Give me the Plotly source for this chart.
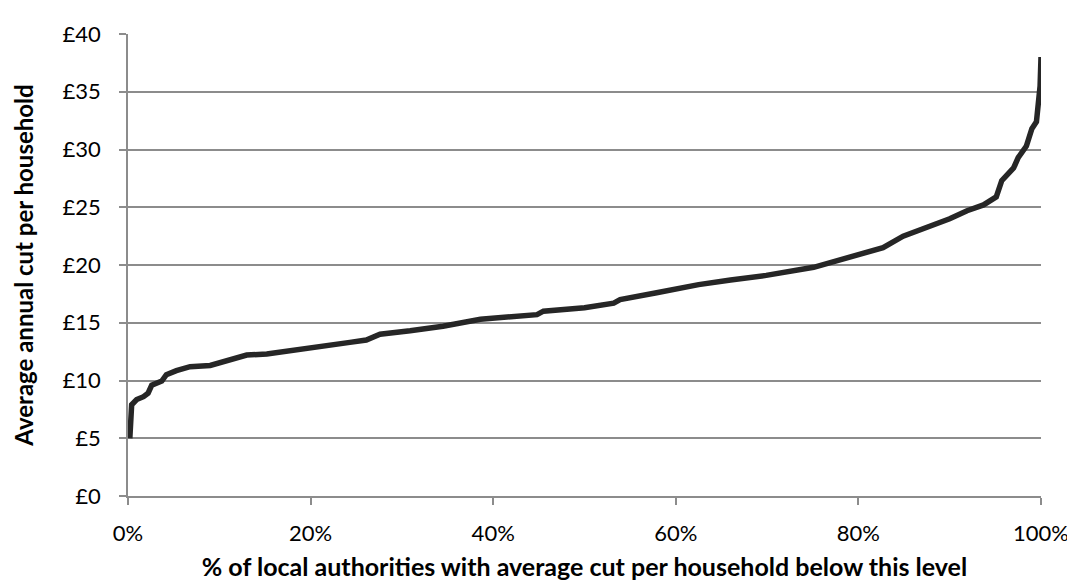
import plotly.graph_objects as go

# share of local authorities (fraction) and average annual cut per household (£)
share = [0.002, 0.003, 0.004, 0.0095, 0.017, 0.022, 0.026, 0.037, 0.042, 0.053,
         0.068, 0.090, 0.110, 0.130, 0.152, 0.188, 0.220, 0.243, 0.261, 0.276,
         0.309, 0.345, 0.386, 0.448, 0.455, 0.500, 0.532, 0.539, 0.579, 0.625,
         0.660, 0.699, 0.751, 0.783, 0.809, 0.827, 0.849, 0.873, 0.900, 0.919,
         0.937, 0.951, 0.957, 0.970, 0.975, 0.984, 0.990, 0.995, 0.999, 1.000]
cut = [5.0, 7.0, 7.9, 8.35, 8.6, 8.9, 9.6, 9.95, 10.5, 10.85,
       11.2, 11.3, 11.7, 12.2, 12.3, 12.65, 13.0, 13.3, 13.5, 14.0,
       14.3, 14.7, 15.3, 15.7, 16.0, 16.3, 16.7, 17.0, 17.6, 18.3,
       18.7, 19.1, 19.8, 20.5, 21.0, 21.5, 22.5, 23.2, 24.0, 24.7,
       25.2, 25.9, 27.3, 28.4, 29.3, 30.3, 31.8, 32.4, 35.5, 38.0]

y_ticks = [0, 5, 10, 15, 20, 25, 30, 35, 40]
y_labels = ["£0", "£5", "£10", "£15", "£20", "£25", "£30", "£35", "£40"]
x_ticks = [0, 0.2, 0.4, 0.6, 0.8, 1.0]
x_labels = ["0%", "20%", "40%", "60%", "80%", "100%"]

fig = go.Figure()
fig.add_trace(go.Scatter(x=share, y=cut, mode="lines",
                         line=dict(color="#262626", width=5.5),
                         hoverinfo="skip", showlegend=False))

font = "Lato, 'Open Sans', sans-serif"
fig.update_layout(
    width=1075, height=586,
    margin=dict(l=120, r=42, t=15, b=98),
    paper_bgcolor="white", plot_bgcolor="white",
    font=dict(family=font, size=22, color="#000000"),
    xaxis=dict(range=[0, 1], tickvals=x_ticks, ticktext=x_labels,
               showgrid=False, zeroline=False,
               showline=True, linecolor="#8c8c8c", linewidth=1.5,
               ticks="outside", ticklen=7, tickcolor="#8c8c8c", tickwidth=1.5,
               tickfont=dict(size=22), ticklabelstandoff=10,
               title=dict(text="<b>% of local authorities with average cut per household below this level</b>",
                          font=dict(size=25), standoff=13)),
    yaxis=dict(range=[0, 40], tickvals=y_ticks, ticktext=y_labels,
               showgrid=True, gridcolor="#8c8c8c", gridwidth=1.5,
               zeroline=False,
               showline=True, linecolor="#8c8c8c", linewidth=1.5,
               ticks="outside", ticklen=7, tickcolor="#8c8c8c", tickwidth=1.5,
               tickfont=dict(size=22), ticklabelstandoff=14,
               title=dict(text="<b>Average annual cut per household</b>",
                          font=dict(size=24), standoff=22)),
)

fig.write_html("out.html")
